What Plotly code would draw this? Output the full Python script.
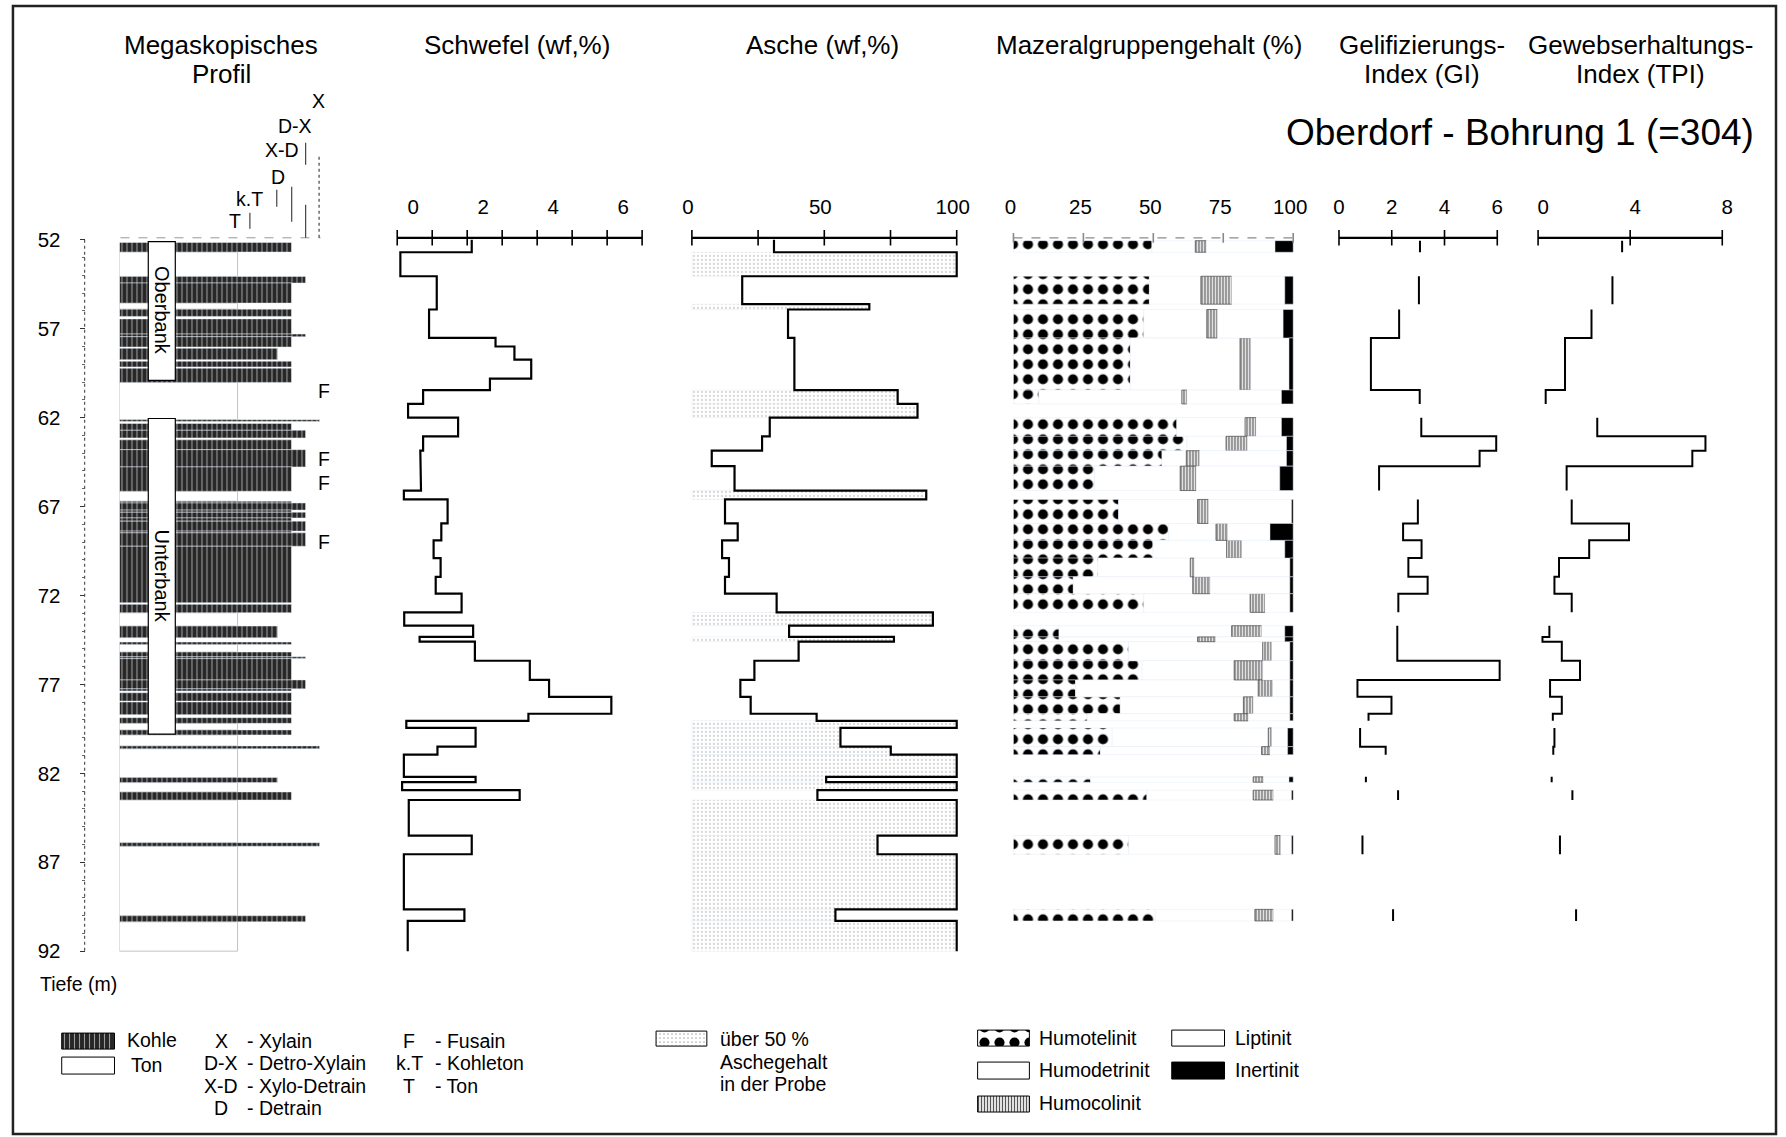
import plotly.graph_objects as go

# ----------------------------------------------------------------- data ---
# Sulfur / ash samples: interval boundaries (m) and one value per interval
SA_BOUNDS = [52.0, 52.7, 54.05, 55.62, 55.92, 57.52, 58.0, 58.74, 59.81, 60.45,
             61.23, 62.0, 63.05, 63.86, 64.73, 66.1, 66.6, 67.95, 68.9, 69.9,
             70.95, 71.9, 72.95, 73.7, 74.33, 74.6, 75.67, 76.75, 77.7, 78.65,
             79.05, 79.45, 80.5, 80.95, 82.2, 82.5, 82.95, 83.5, 85.5, 86.55,
             89.65, 90.3, 92.0]
SULFUR = [2.13, 0.09, 1.13, 1.13, 0.91, 2.81, 3.35, 3.83, 2.65, 0.74,
          0.31, 1.74, 0.74, 0.66, 0.68, 0.19, 1.44, 1.26, 1.04, 1.24,
          1.10, 1.84, 0.20, 2.17, 0.64, 2.22, 3.79, 4.34, 6.12, 3.75,
          0.26, 2.24, 1.15, 0.19, 2.24, 0.14, 3.50, 0.33, 2.13, 0.19,
          1.92, 0.30]
ASH = [31.0, 100.0, 19.0, 67.0, 36.3, 38.7, 38.7, 38.7, 38.7, 77.7,
       85.2, 29.4, 26.5, 7.5, 16.1, 88.5, 12.5, 17.3, 11.4, 14.0,
       12.5, 32.0, 91.0, 36.7, 76.3, 40.3, 23.6, 18.3, 22.2, 47.1,
       100.0, 56.1, 75.1, 100.0, 50.7, 100.0, 47.4, 100.0, 70.1, 100.0,
       54.2, 100.0]
ASH_LIMIT = 50

# Maceral analyses of the coal samples
MAC_TOP = [52.05, 54.05, 55.92, 57.52, 60.45, 62.0, 63.05, 63.86, 64.73, 66.6,
           67.95, 68.9, 69.9, 70.95, 71.9, 73.7, 74.33, 74.6, 75.67, 76.75,
           77.7, 78.65, 79.45, 80.5, 82.2, 82.95, 85.5, 89.65]
MAC_BOT = [52.7, 55.62, 57.52, 60.45, 61.23, 63.05, 63.86, 64.73, 66.1, 67.95,
           68.9, 69.9, 70.95, 71.9, 72.95, 74.33, 74.6, 75.67, 76.75, 77.7,
           78.65, 79.05, 80.5, 80.95, 82.5, 83.5, 86.55, 90.3]
HUMOTELINIT = [49.5, 48.6, 46.6, 41.8, 9.1, 58.4, 62.0, 53.1, 29.0, 37.6,
               55.5, 49.9, 30.2, 21.4, 46.6, 16.3, 16.3, 41.2, 46.0, 22.2,
               38.2, 26.4, 35.3, 31.1, 27.6, 47.7, 41.2, 50.7]
HUMODETRINIT = [15.5, 18.4, 22.5, 39.2, 51.1, 24.4, 14.0, 8.7, 30.6, 28.2,
                16.9, 26.3, 33.0, 42.7, 38.0, 61.7, 49.5, 47.9, 32.9, 65.3,
                44.0, 52.5, 55.8, 57.6, 58.1, 38.0, 52.3, 35.6]
HUMOCOLINIT = [3.9, 11.0, 3.8, 3.8, 1.8, 3.9, 7.6, 4.7, 5.7, 3.9,
               4.1, 5.4, 1.4, 6.2, 5.3, 10.7, 6.4, 3.2, 10.2, 5.1,
               3.5, 5.0, 1.2, 3.0, 3.6, 7.2, 2.0, 6.6]
LIPTINIT = [24.6, 19.0, 23.5, 13.7, 33.8, 9.1, 14.0, 31.1, 29.9, 29.7,
            15.2, 15.4, 34.2, 28.5, 8.9, 8.3, 24.8, 6.5, 9.7, 6.2,
            13.1, 14.9, 5.7, 6.3, 9.2, 6.5, 3.9, 6.5]
INERTINIT = [6.5, 3.0, 3.6, 1.5, 4.2, 4.2, 2.4, 2.4, 4.8, 0.6,
             8.3, 3.0, 1.2, 1.2, 1.2, 3.0, 3.0, 1.2, 1.2, 1.2,
             1.2, 1.2, 2.0, 2.0, 1.5, 0.6, 0.6, 0.6]
GI = [3.07, 3.03, 2.28, 1.21, 3.06, 3.12, 5.96, 5.33, 1.52, 2.99,
      2.43, 3.13, 2.63, 3.36, 2.25, 2.21, 2.21, 2.21, 6.09, 0.70,
      1.99, 1.12, 0.80, 1.77, 1.02, 2.24, 0.89, 2.05]
TPI = [3.65, 3.23, 2.32, 1.17, 0.33, 2.57, 7.27, 6.70, 1.24, 1.46,
       3.95, 2.22, 0.91, 0.71, 1.46, 0.49, 0.19, 1.03, 1.82, 0.52,
       1.03, 0.64, 0.71, 0.66, 0.59, 1.49, 0.95, 1.65]

# Megascopic profile: beds with lithotype
BED_TOP = [52.15, 52.69, 54.06, 54.43, 55.56, 55.90, 56.45, 57.30, 57.45, 58.10,
           58.83, 59.22, 60.02, 62.12, 62.33, 62.71, 63.25, 63.80, 64.77, 66.14,
           66.70, 66.80, 67.20, 67.32, 67.64, 67.82, 68.38, 68.48, 69.23, 72.50,
           72.97, 73.72, 74.62, 74.75, 75.18, 75.45, 75.55, 76.75, 77.25, 77.47,
           77.99, 78.87, 79.19, 79.56, 79.84, 80.46, 80.62, 82.24, 82.52, 83.05,
           83.50, 85.90, 86.10, 90.01, 90.35]
BED_BOT = [52.69, 54.06, 54.43, 55.56, 55.90, 56.31, 57.30, 57.45, 58.03, 58.74,
           59.15, 60.02, 62.12, 62.22, 62.71, 63.14, 63.80, 64.77, 66.14, 66.70,
           66.80, 67.20, 67.32, 67.64, 67.82, 68.38, 68.48, 69.23, 72.41, 72.97,
           73.72, 74.38, 74.75, 75.18, 75.45, 75.55, 76.75, 77.25, 77.37, 77.94,
           78.70, 79.19, 79.56, 79.84, 80.46, 80.62, 82.24, 82.52, 83.05, 83.50,
           85.90, 86.10, 90.01, 90.35, 92.00]
BED_LITHO = ["D", "T", "X-D", "D", "T", "D", "D", "X-D", "D", "k.T",
             "D", "D", "T", "X", "D", "X-D", "D", "X-D", "D", "T",
             "D", "X-D", "D", "X-D", "D", "X-D", "D", "X-D", "D", "D",
             "T", "k.T", "D", "T", "D", "X-D", "D", "X-D", "D", "D",
             "D", "D", "T", "D", "T", "X", "T", "k.T", "T", "D",
             "T", "X", "T", "X-D", "T"]

FUSAIN_DEPTHS = [60.5, 64.3, 65.7, 69.0]
UNIT_NAMES = ["Oberbank", "Unterbank"]
UNIT_TOP = [52.1, 62.05]
UNIT_BOT = [59.9, 79.8]

DEPTH_TICKS = [52, 57, 62, 67, 72, 77, 82, 87, 92]

# ------------------------------------------------------------- geometry ---
W, H = 1786, 1137
PX_PER_M = 17.8          # vertical scale of the depth axis
ROW_52 = 240             # pixel row of 52 m
FONT = "Liberation Sans, Arial, Helvetica, sans-serif"


def fx(p):
    return p / W


def fy(p):
    return 1 - p / H


def depth_of_row(p):
    return 52 + (p - ROW_52) / PX_PER_M


Y_TOP_ROW, Y_BOT_ROW = 222, 962
AXIS_DEPTH = depth_of_row(238)

# lithotype column widths in the profile (0..100 = column width)
LITHO_WIDTH = {"T": 59, "k.T": 79, "D": 86, "X-D": 93, "D-X": 96.5, "X": 100}
PROFILE_LEFT, PROFILE_PX_PER_UNIT = 118, 2.01

PANELS = {
    "x2": dict(left=397, right=643, lo=0, hi=7, ticks=list(range(8)), labels=[0, 2, 4, 6],
               dash=None, shift=16),
    "x3": dict(left=693, right=959, lo=0, hi=100, ticks=[0, 25, 50, 75, 100], labels=[0, 50, 100],
               dash=None, shift=-4),
    "x4": dict(left=1016, right=1297, lo=0, hi=100, ticks=[0, 25, 50, 75, 100],
               labels=[0, 25, 50, 75, 100], dash="dash", shift=-3),
    "x5": dict(left=1343, right=1502, lo=0, hi=6, ticks=[0, 2, 4, 6], labels=[0, 2, 4, 6],
               dash=None, shift=0),
    "x6": dict(left=1543, right=1728, lo=0, hi=8, ticks=[0, 4, 8], labels=[0, 4, 8],
               dash=None, shift=5),
}

# ------------------------------------------------------------- patterns ---
COAL = dict(color="#2a2a2a", pattern=dict(shape="|", bgcolor="#262626", fgcolor="#9a9a9a",
                                          size=5, solidity=0.22, fillmode="replace"))
CLAY = dict(color="white", line=dict(color="#b4b4b4", width=0.8))
ASH_FILL = dict(color="white", pattern=dict(shape=".", bgcolor="white", fgcolor="#b0b0b0",
                                            size=4, solidity=0.14, fillmode="replace"))
HT_FILL = dict(color="white", pattern=dict(shape=".", bgcolor="white", fgcolor="black",
                                           size=15, solidity=0.36, fillmode="replace"))
HC_FILL = dict(color="white", pattern=dict(shape="|", bgcolor="white", fgcolor="#555555",
                                           size=3, solidity=0.45, fillmode="replace"),
               line=dict(color="#555555", width=0.8))
WHITE_FILL = dict(color="white")
INE_FILL = dict(color="black")


def step_path(tops, bots, vals):
    xs, ys = [], []
    prev = None
    for t, b, v in zip(tops, bots, vals):
        if prev is not None and abs(t - prev) > 1e-6:
            xs.append(None)
            ys.append(None)
        xs += [v, v]
        ys += [t, b]
        prev = b
    return xs, ys


def hbar(tops, bots, lengths, bases, marker, xaxis):
    return go.Bar(orientation="h",
                  y=[(t + b) / 2 for t, b in zip(tops, bots)],
                  width=[b - t for t, b in zip(tops, bots)],
                  x=lengths, base=bases, marker=marker,
                  xaxis=xaxis, yaxis="y", hoverinfo="skip")


fig = go.Figure()

# ---- megascopic profile
clay = [i for i, l in enumerate(BED_LITHO) if l == "T"]
coal = [i for i, l in enumerate(BED_LITHO) if l != "T"]
for idx, mk in ((clay, CLAY), (coal, COAL)):
    fig.add_trace(hbar([BED_TOP[i] for i in idx], [BED_BOT[i] for i in idx],
                       [LITHO_WIDTH[BED_LITHO[i]] for i in idx], [0] * len(idx), mk, "x"))

# ---- sulfur
sx, sy = step_path(SA_BOUNDS[:-1], SA_BOUNDS[1:], SULFUR)
fig.add_trace(go.Scatter(x=sx, y=sy, mode="lines", line=dict(color="black", width=2.2),
                         xaxis="x2", yaxis="y", hoverinfo="skip"))

# ---- ash (stippled where above the limit)
hi_ash = [i for i, a in enumerate(ASH) if a >= ASH_LIMIT]
fig.add_trace(hbar([SA_BOUNDS[i] for i in hi_ash], [SA_BOUNDS[i + 1] for i in hi_ash],
                   [ASH[i] for i in hi_ash], [0] * len(hi_ash), ASH_FILL, "x3"))
axx, axy = step_path(SA_BOUNDS[:-1], SA_BOUNDS[1:], ASH)
fig.add_trace(go.Scatter(x=axx, y=axy, mode="lines", line=dict(color="black", width=2.2),
                         xaxis="x3", yaxis="y", hoverinfo="skip"))

# ---- maceral groups, stacked from 0 to 100 %
base = [0.0] * len(MAC_TOP)
for vals, mk in ((HUMOTELINIT, HT_FILL), (HUMODETRINIT, WHITE_FILL), (HUMOCOLINIT, HC_FILL),
                 (LIPTINIT, WHITE_FILL), (INERTINIT, INE_FILL)):
    fig.add_trace(hbar(MAC_TOP, MAC_BOT, vals, list(base), mk, "x4"))
    base = [b + v for b, v in zip(base, vals)]

# ---- GI and TPI
for vals, ax in ((GI, "x5"), (TPI, "x6")):
    gx, gy = step_path(MAC_TOP, MAC_BOT, vals)
    fig.add_trace(go.Scatter(x=gx, y=gy, mode="lines", line=dict(color="black", width=2),
                             xaxis=ax, yaxis="y", hoverinfo="skip"))

# ---- value axes drawn along the 52 m line
layout_axes = {}
for name, p in PANELS.items():
    col = "#8a8a8a" if p["dash"] else "black"
    fig.add_trace(go.Scatter(x=[p["lo"], p["hi"]], y=[AXIS_DEPTH] * 2, mode="lines",
                             line=dict(color=col, width=1.2 if p["dash"] else 2.2, dash=p["dash"] or "solid"),
                             xaxis=name, yaxis="y", hoverinfo="skip"))
    fig.add_trace(go.Scatter(x=p["ticks"], y=[AXIS_DEPTH] * len(p["ticks"]), mode="markers",
                             marker=dict(symbol="line-ns", size=11 if not p["dash"] else 7,
                                         line=dict(color=col, width=1.6)),
                             xaxis=name, yaxis="y", hoverinfo="skip"))
    scale = (p["right"] - p["left"]) / (p["hi"] - p["lo"])
    pad = 8
    layout_axes["xaxis" + name[1:]] = dict(
        domain=[fx(p["left"] - pad), fx(p["right"] + pad)],
        range=[p["lo"] - pad / scale, p["hi"] + pad / scale],
        anchor="y", side="top", showgrid=False, zeroline=False, showline=False, ticks="",
        tickmode="array", tickvals=p["labels"], ticktext=[str(v) for v in p["labels"]],
        tickfont=dict(size=20.5, color="black", family=FONT), ticklabelstandoff=3,
        ticklabelshift=p["shift"])

# ---- legend swatches (drawn on a full-page overlay axis)
SWATCHES = [
    ((60, 1034, 113, 1050), dict(COAL, line=dict(color="black", width=1))),
    ((60, 1058, 113, 1075), dict(color="white", line=dict(color="black", width=1))),
    ((657, 1032, 708, 1047), dict(ASH_FILL, line=dict(color="black", width=1))),
    ((980, 1031, 1032, 1047), dict(HT_FILL, line=dict(color="black", width=1))),
    ((980, 1063, 1032, 1080), dict(color="white", line=dict(color="black", width=1))),
    ((980, 1097, 1032, 1113), dict(HC_FILL, line=dict(color="black", width=1))),
    ((1175, 1031, 1228, 1047), dict(color="white", line=dict(color="black", width=1))),
    ((1175, 1063, 1228, 1080), dict(color="black", line=dict(color="black", width=1))),
]
for (x0, y0, x1, y1), mk in SWATCHES:
    fig.add_trace(go.Bar(orientation="h", x=[x1 - x0], base=[x0], y=[(y0 + y1) / 2],
                         width=[y1 - y0], marker=mk, xaxis="x7", yaxis="y2", hoverinfo="skip"))

# ------------------------------------------------------------ annotations ---
ann = []


def text(s, x, y, size, anchor="center", **kw):
    ann.append(dict(text=s, x=fx(x), y=fy(y), xref="paper", yref="paper", showarrow=False,
                    xanchor=anchor, yanchor="middle", font=dict(size=size, color="black", family=FONT), **kw))


for s, x, y in (("Megaskopisches", 220, 45), ("Profil", 220, 74), ("Schwefel (wf,%)", 517, 45),
                ("Asche (wf,%)", 824, 45), ("Mazeralgruppengehalt (%)", 1152, 45),
                ("Gelifizierungs-", 1426, 45), ("Index (GI)", 1426, 74),
                ("Gewebserhaltungs-", 1646, 45), ("Index (TPI)", 1646, 74)):
    text(s, x, y, 26)
text("Oberdorf - Bohrung 1 (=304)", 1525, 133, 37)

# lithotype header of the profile column
for s, x, y in (("X", 318, 101), ("D-X", 294, 126), ("X-D", 281, 150), ("D", 277, 177),
                ("k.T", 249, 199), ("T", 234, 221)):
    text(s, x, y, 19.5)

text("Tiefe (m)", 36, 985, 19.5, anchor="left")

# legend texts
text("Kohle", 124, 1041, 19.5, anchor="left")
text("Ton", 128, 1066, 19.5, anchor="left")
for code, desc, y in (("X", "- Xylain", 1042), ("D-X", "- Detro-Xylain", 1064),
                      ("X-D", "- Xylo-Detrain", 1087), ("D", "- Detrain", 1109)):
    text(code, 220, y, 19.5)
    text(desc, 244, y, 19.5, anchor="left")
for code, desc, y in (("F", "- Fusain", 1042), ("k.T", "- Kohleton", 1064), ("T", "- Ton", 1087)):
    text(code, 409, y, 19.5)
    text(desc, 433, y, 19.5, anchor="left")
for s, y in (("über 50 %", 1040), ("Aschegehalt", 1063), ("in der Probe", 1085)):
    text(s, 719, y, 19.5, anchor="left")
for s, x, y in (("Humotelinit", 1040, 1039), ("Humodetrinit", 1040, 1071), ("Humocolinit", 1040, 1104),
                ("Liptinit", 1237, 1039), ("Inertinit", 1237, 1071)):
    text(s, x, y, 19.5, anchor="left")

# fusain marks beside the profile
for d in FUSAIN_DEPTHS:
    ann.append(dict(text="F", x=fx(323), y=d, xref="paper", yref="y", showarrow=False,
                    xanchor="center", yanchor="middle", font=dict(size=19.5, color="black", family=FONT)))

# seam names
for name, t, b in zip(UNIT_NAMES, UNIT_TOP, UNIT_BOT):
    ann.append(dict(text=name, x=21.2, y=(t + b) / 2, xref="x", yref="y", showarrow=False,
                    textangle=90, xanchor="center", yanchor="middle",
                    font=dict(size=20, color="black", family=FONT)))

# ----------------------------------------------------------------- shapes ---
shapes = [
    # page frame
    dict(type="rect", xref="paper", yref="paper", x0=fx(11), x1=fx(1782), y0=fy(1135), y1=fy(6),
         line=dict(color="#222", width=2.5), layer="above"),
    # dotted depth axis
    dict(type="line", xref="paper", yref="y", x0=fx(83), x1=fx(83), y0=52, y1=92,
         line=dict(color="#555", width=1.2, dash="dot")),
    # top border of the profile column
    dict(type="line", xref="paper", yref="y", x0=fx(119), x1=fx(320), y0=AXIS_DEPTH, y1=AXIS_DEPTH,
         line=dict(color="#999", width=1, dash="dash")),
]
for t, b in zip(UNIT_TOP, UNIT_BOT):
    shapes.append(dict(type="rect", xref="x", yref="y", x0=14.4, x1=27.9, y0=t, y1=b,
                       fillcolor="white", line=dict(color="black", width=1.2), layer="above"))
# short guide lines of the lithotype header
for x, y0, y1, dash in ((249, 213, 229, "solid"), (276, 190, 207, "solid"), (291, 187, 222, "solid"),
                        (305, 143, 165, "solid"), (305, 205, 238, "solid"), (318.5, 157, 238, "dot")):
    shapes.append(dict(type="line", xref="paper", yref="paper", x0=fx(x), x1=fx(x), y0=fy(y0), y1=fy(y1),
                       line=dict(color="#444", width=1.2, dash=dash)))

# ----------------------------------------------------------------- layout ---
fig.update_layout(
    width=W, height=H, margin=dict(l=0, r=0, t=0, b=0, pad=0),
    paper_bgcolor="white", plot_bgcolor="rgba(0,0,0,0)",
    showlegend=False, barmode="overlay", font=dict(family=FONT, color="black"),
    xaxis=dict(domain=[fx(PROFILE_LEFT), fx(PROFILE_LEFT + 105 * PROFILE_PX_PER_UNIT)],
               range=[0, 105], visible=False, anchor="y"),
    yaxis=dict(domain=[fy(Y_BOT_ROW), fy(Y_TOP_ROW)],
               range=[depth_of_row(Y_BOT_ROW), depth_of_row(Y_TOP_ROW)],
               anchor="free", position=fx(83), showgrid=False, zeroline=False, showline=False,
               tickmode="array", tickvals=DEPTH_TICKS, ticks="outside", ticklen=5, tickwidth=1.2,
               tickcolor="#333", ticklabelstandoff=15,
               tickfont=dict(size=20.5, color="black", family=FONT),
               minor=dict(tickmode="array", tickvals=[d for d in range(53, 92) if d not in DEPTH_TICKS],
                          ticks="outside", ticklen=3, tickcolor="#666", tickwidth=1)),
    xaxis7=dict(domain=[0, 1], range=[0, W], visible=False, anchor="y2"),
    yaxis2=dict(domain=[0, 1], range=[H, 0], visible=False, anchor="x7"),
    annotations=ann, shapes=shapes,
    **layout_axes,
)

fig.write_html("out.html", config={"displayModeBar": False},
               post_script="document.body.style.margin='0px';")
